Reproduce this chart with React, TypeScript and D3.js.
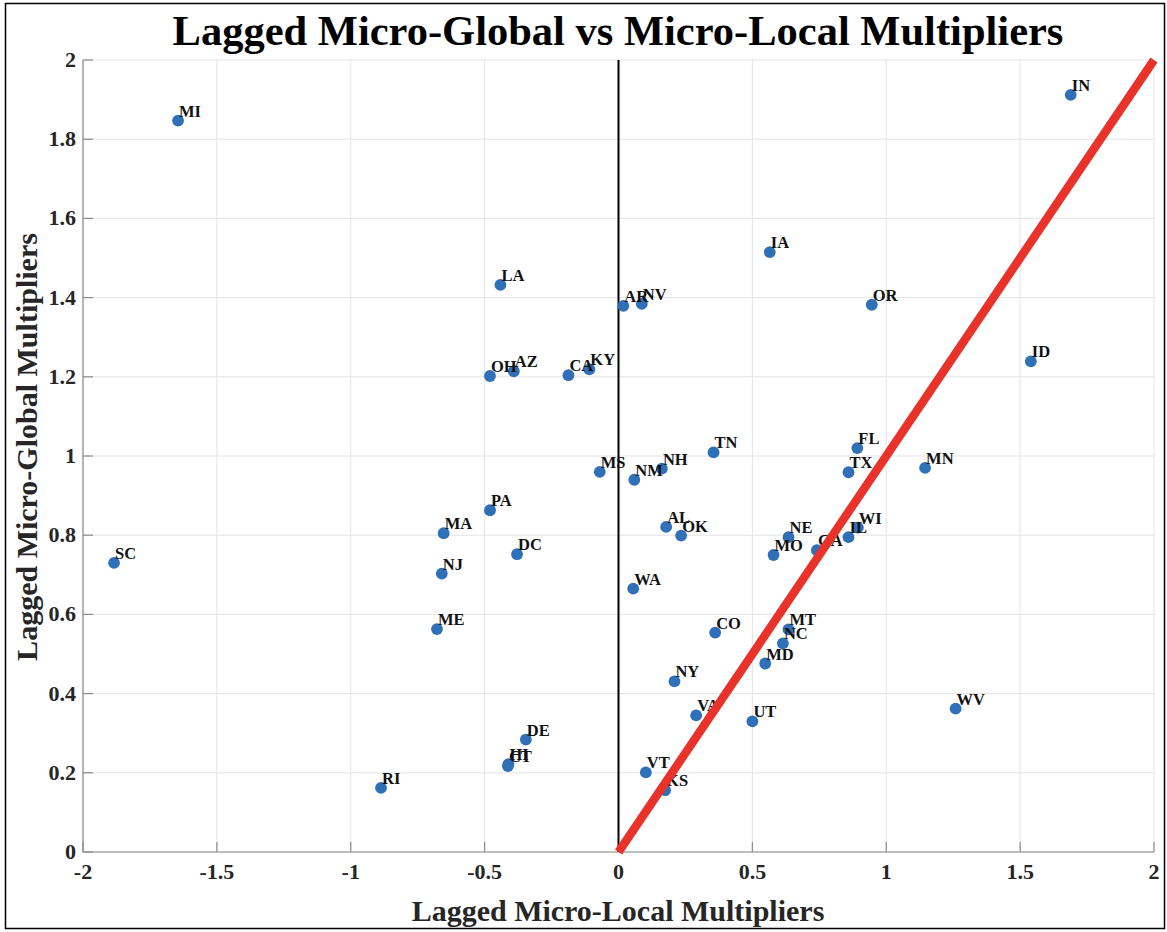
import React from "react";
import * as d3 from "d3";

const states = ["MI","IN","SC","RI","LA","AR","NV","OH","AZ","CA","KY","MS","NM","NH","TN","PA","MA","DC","NJ","AL","OK","WA","ME","FL","TX","MN","NE","MO","GA","IL","WI","CO","MT","NC","MD","NY","VA","UT","WV","VT","KS","DE","CT","HI","IA","OR","ID"];
const localMult = [-1.645,1.689,-1.884,-0.887,-0.441,0.018,0.087,-0.480,-0.391,-0.187,-0.109,-0.070,0.059,0.162,0.355,-0.480,-0.653,-0.379,-0.660,0.178,0.234,0.055,-0.678,0.892,0.859,1.145,0.635,0.579,0.741,0.859,0.894,0.361,0.635,0.614,0.548,0.209,0.290,0.500,1.259,0.102,0.174,-0.346,-0.413,-0.411,0.565,0.946,1.540];
const globalMult = [1.847,1.912,0.730,0.162,1.432,1.379,1.384,1.202,1.214,1.204,1.219,0.960,0.940,0.968,1.009,0.863,0.805,0.752,0.703,0.821,0.799,0.665,0.563,1.020,0.959,0.970,0.795,0.750,0.762,0.795,0.819,0.554,0.562,0.527,0.476,0.431,0.345,0.330,0.362,0.201,0.156,0.284,0.217,0.222,1.515,1.382,1.239];
const xTicks = [-2,-1.5,-1,-0.5,0,0.5,1,1.5,2];
const yTicks = [0,0.2,0.4,0.6,0.8,1,1.2,1.4,1.6,1.8,2];

const W = 1167, H = 932;
const L = 83, R = 1154, T = 60, B = 852;
const FONT = "'Liberation Serif', 'DejaVu Serif', serif";

export default function App() {
  const x = d3.scaleLinear().domain([-2, 2]).range([L, R]);
  const y = d3.scaleLinear().domain([0, 2]).range([B, T]);
  const diag = d3.line<number>().x(d => x(d)).y(d => y(d));
  return (
    <div style={{ position: "fixed", left: 0, top: 0 }}>
      <svg width={W} height={H} style={{ display: "block", background: "#fff" }}>
        <rect x={5.5} y={3.5} width={1159} height={925} fill="none" stroke="#000" strokeWidth={1.5} />
        {xTicks.map(t => (
          <line key={"gx" + t} x1={x(t)} x2={x(t)} y1={T} y2={B} stroke="#e4e4e4" strokeWidth={1} />
        ))}
        {yTicks.map(t => (
          <line key={"gy" + t} x1={L} x2={R} y1={y(t)} y2={y(t)} stroke="#e4e4e4" strokeWidth={1} />
        ))}
        <line x1={L} x2={R} y1={B} y2={B} stroke="#8a8a8a" strokeWidth={1.2} />
        <line x1={L} x2={L} y1={T} y2={B} stroke="#8a8a8a" strokeWidth={1.2} />
        {xTicks.map(t => (
          <line key={"tx" + t} x1={x(t)} x2={x(t)} y1={B} y2={B - 10} stroke="#8a8a8a" strokeWidth={1.2} />
        ))}
        {yTicks.map(t => (
          <line key={"ty" + t} x1={L} x2={L + 10} y1={y(t)} y2={y(t)} stroke="#8a8a8a" strokeWidth={1.2} />
        ))}
        {xTicks.map(t => (
          <text key={"lx" + t} x={x(t)} y={B + 27} textAnchor="middle" fontFamily={FONT} fontWeight="bold" fontSize={22} fill="#262626">{String(t)}</text>
        ))}
        {yTicks.map(t => (
          <text key={"ly" + t} x={L - 7} y={y(t) + 7} textAnchor="end" fontFamily={FONT} fontWeight="bold" fontSize={22} fill="#262626">{String(t)}</text>
        ))}
        <line x1={x(0)} x2={x(0)} y1={T} y2={B} stroke="#000" strokeWidth={2} />
        {states.map((s, i) => (
          <circle key={"c" + s} cx={x(localMult[i])} cy={y(globalMult[i])} r={5.9} fill="#2f70b8" />
        ))}
        {states.map((s, i) => (
          <text key={"t" + s} x={x(localMult[i]) + 1} y={y(globalMult[i]) - 4} fontFamily={FONT} fontWeight="bold" fontSize={16.5} fill="#111">{s}</text>
        ))}
        <path d={diag([0, 2]) || ""} stroke="#e8322a" strokeWidth={8.5} fill="none" />
        <text x={618} y={45} textAnchor="middle" fontFamily={FONT} fontWeight="bold" fontSize={42.5} fill="#000">Lagged Micro-Global vs Micro-Local Multipliers</text>
        <text x={618} y={921} textAnchor="middle" fontFamily={FONT} fontWeight="bold" fontSize={30} fill="#262626">Lagged Micro-Local Multipliers</text>
        <text transform={`translate(37, 447) rotate(-90)`} textAnchor="middle" fontFamily={FONT} fontWeight="bold" fontSize={30} fill="#262626">Lagged Micro-Global Multipliers</text>
      </svg>
    </div>
  );
}
